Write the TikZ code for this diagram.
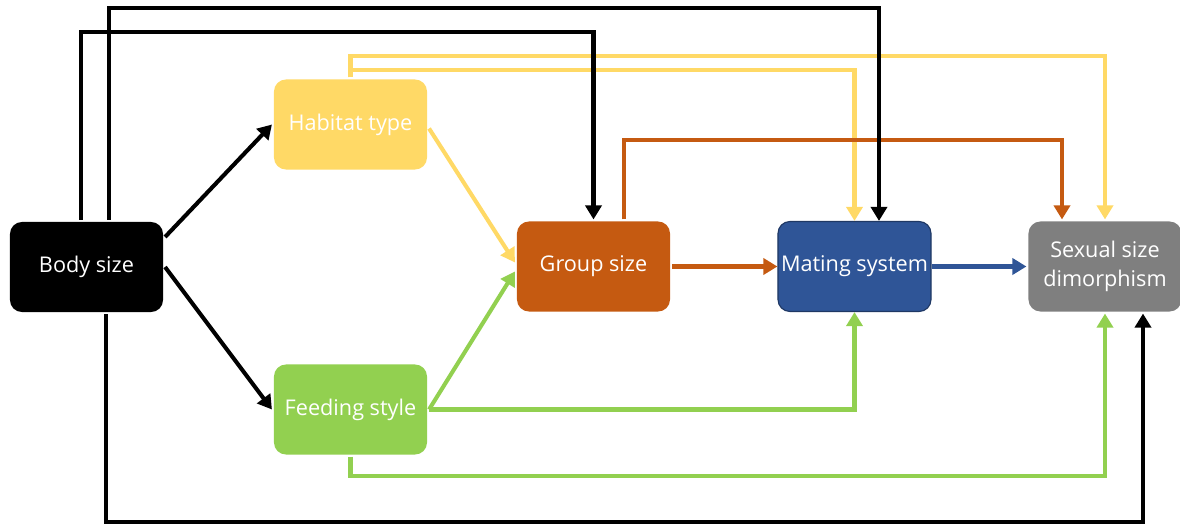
\documentclass[tikz,border=0pt]{standalone}
\usepackage{fontspec}
\setmainfont{Open Sans}
\usepackage{tikz}
\usetikzlibrary{arrows.meta,calc}
\usepackage{xcolor}
\definecolor{habcol}{HTML}{FFD966}
\definecolor{feedcol}{HTML}{92D050}
\definecolor{grpcol}{HTML}{C55A11}
\definecolor{matecol}{HTML}{2F5597}
\definecolor{mateline}{HTML}{1F3864}
\definecolor{ssdcol}{HTML}{7F7F7F}

\begin{document}
\begin{tikzpicture}[x=0.025cm,y=-0.025cm,>={Triangle[length=0.35cm,width=0.4cm]},
  font=\fontsize{15.4}{21}\selectfont,line width=2.9pt,
  box/.style={rounded corners=0.3cm,minimum width=3.825cm,minimum height=2.25cm,
    text=white,align=center,inner sep=0pt},
  blk/.style={->,black},
  yel/.style={->,habcol},
  grn/.style={->,feedcol},
  org/.style={->,grpcol},
  blu/.style={->,matecol}]
\useasboundingbox (0,0) rectangle (1180,526);
% boxes
\node[box,fill=black] (body) at (86.5,267) {Body size};
\node[box,fill=habcol] (hab) at (350.5,124.5) {Habitat type};
\node[box,fill=feedcol] (feed) at (350.5,409.5) {Feeding style};
\node[box,fill=grpcol] (group) at (593.5,266.5) {Group size};
\node[box,fill=matecol,draw=mateline,line width=0.8pt] (mate) at (854.5,266.5) {Mating system};
\node[box,fill=ssdcol] (ssd) at (1105,266.5) {Sexual size\\dimorphism};
% yellow links
\draw[yel] (hab.north) -- (350.5,56) -| (ssd.north);
\draw[yel] (hab.north) -- (350.5,70) -| (mate.north);
\draw[yel] ($(hab.east)+(0,4)$) -- ($(group.west)+(0,-4)$);
% green links
\draw[grn] (feed.east) -- ($(group.west)+(0,5)$);
\draw[grn] (feed.east) -| (mate.south);
\draw[grn] (feed.south) -- (350.5,476) -| (ssd.south);
% orange links
\draw[org] (group.east) -- (mate.west);
\draw[org] (624,0 |- group.north) -- (624,140) -| (1062,0 |- ssd.north);
% blue link
\draw[blu] (mate.east) -- (ssd.west);
% black links
\draw[blk] ($(body.east)+(0,-30)$) -- (hab.west);
\draw[blk] (body.east) -- (feed.west);
\draw[blk] (81,0 |- body.north) -- (81,32) -| (group.north);
\draw[blk] (109,0 |- body.north) -- (109,8) -| (879,0 |- mate.north);
\draw[blk] (106,0 |- body.south) -- (106,522) -| (1143,0 |- ssd.south);
\end{tikzpicture}
\end{document}
